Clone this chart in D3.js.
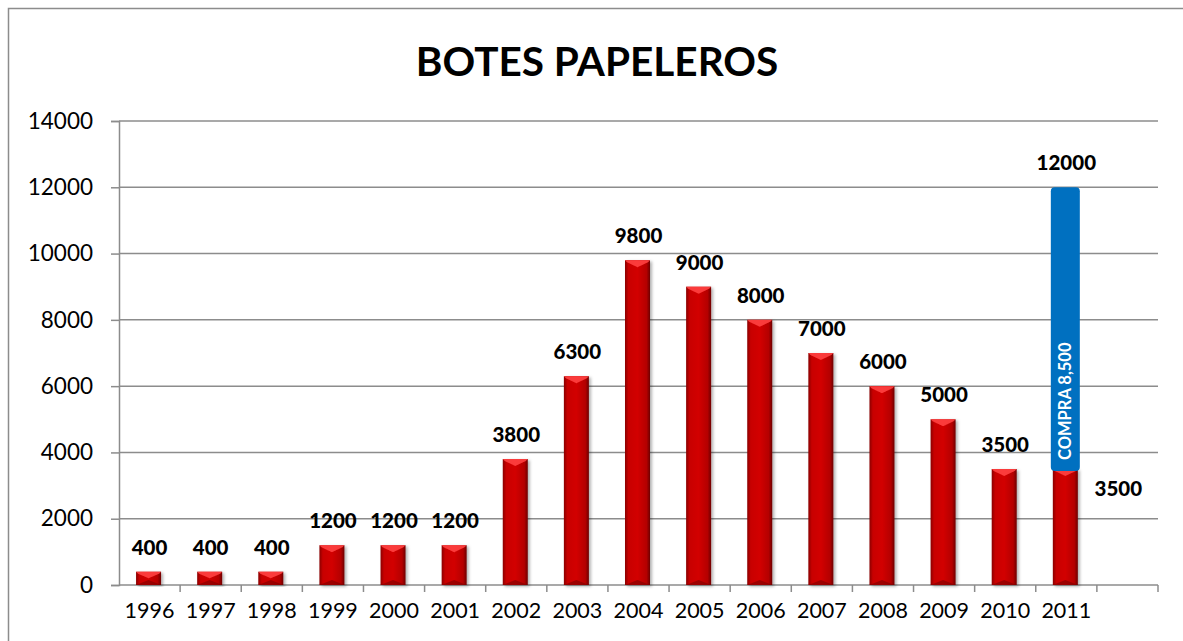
<!DOCTYPE html>
<html>
<head>
<meta charset="utf-8">
<script src="https://cdn.jsdelivr.net/npm/d3@7"></script>
<style>
  html, body { margin: 0; padding: 0; background: #fff; }
  svg { display: block; }
  text { font-family: Lato, "Open Sans", sans-serif; }
</style>
</head>
<body>
<div id="chart"></div>
<script>
// chart data
var title = "BOTES PAPELEROS";
var years = ["1996", "1997", "1998", "1999", "2000", "2001", "2002", "2003",
             "2004", "2005", "2006", "2007", "2008", "2009", "2010", "2011"];
var botes = [400, 400, 400, 1200, 1200, 1200, 3800, 6300,
             9800, 9000, 8000, 7000, 6000, 5000, 3500, 3500];
var compra = [0, 0, 0, 0, 0, 0, 0, 0, 0, 0, 0, 0, 0, 0, 0, 8500];
var compraLabel = "COMPRA 8,500";
var yTicks = [0, 2000, 4000, 6000, 8000, 10000, 12000, 14000];

var W = 1183, H = 641;
var margin = {top: 121, right: 25, bottom: 56, left: 119};

// one empty slot at the end of the axis, like the original
var slots = years.concat(["_empty"]);

var svg = d3.select("#chart").append("svg")
  .attr("width", W)
  .attr("height", H);

var defs = svg.append("defs");

var grad = defs.append("linearGradient")
  .attr("id", "redGrad")
  .attr("x1", "0%").attr("x2", "100%").attr("y1", "0%").attr("y2", "0%");
grad.append("stop").attr("offset", "0%").attr("stop-color", "#8a0000");
grad.append("stop").attr("offset", "14%").attr("stop-color", "#c80000");
grad.append("stop").attr("offset", "50%").attr("stop-color", "#d20202");
grad.append("stop").attr("offset", "86%").attr("stop-color", "#b40000");
grad.append("stop").attr("offset", "100%").attr("stop-color", "#6e0000");

var shadow = defs.append("filter").attr("id", "shadow")
  .attr("x", "-30%").attr("y", "-10%").attr("width", "160%").attr("height", "120%");
shadow.append("feDropShadow")
  .attr("dx", 2).attr("dy", 1.5).attr("stdDeviation", 1.5)
  .attr("flood-color", "#000").attr("flood-opacity", 0.3);

// outer chart border
svg.append("rect")
  .attr("x", 8.5).attr("y", 8.5)
  .attr("width", 1300).attr("height", 800)
  .attr("fill", "none")
  .attr("stroke", "#8c8c8c")
  .attr("stroke-width", 1.5);

svg.append("text")
  .attr("x", 597)
  .attr("y", 76)
  .attr("text-anchor", "middle")
  .style("font-size", "40.5px")
  .style("font-weight", "bold")
  .text(title);

var x = d3.scaleBand()
  .domain(slots)
  .range([margin.left, W - margin.right])
  .padding(0);

var y = d3.scaleLinear()
  .domain([0, 14000])
  .range([H - margin.bottom, margin.top]);

var g = svg.append("g");

// horizontal gridlines
g.selectAll(".grid")
  .data(yTicks.filter(function(d) { return d > 0; }))
  .enter().append("line")
    .attr("x1", margin.left)
    .attr("x2", W - margin.right)
    .attr("y1", function(d) { return y(d); })
    .attr("y2", function(d) { return y(d); })
    .attr("stroke", "#8c8c8c")
    .attr("stroke-width", 1.5);

// y axis
var yAxis = g.append("g")
  .attr("transform", "translate(" + margin.left + ",0)")
  .call(d3.axisLeft(y).tickValues(yTicks).tickFormat(d3.format("d")).tickSize(8).tickPadding(18));
yAxis.selectAll("path, line").attr("stroke", "#8c8c8c").attr("stroke-width", 1.5);
yAxis.selectAll("text")
  .style("font-size", "22.5px")
  .style("font-family", "Lato, sans-serif")
  .attr("fill", "#000");

// x axis: ticks at slot boundaries
var xAxisG = g.append("g");
xAxisG.append("line")
  .attr("x1", margin.left)
  .attr("x2", W - margin.right)
  .attr("y1", y(0)).attr("y2", y(0))
  .attr("stroke", "#8c8c8c").attr("stroke-width", 1.5);
xAxisG.selectAll(".xt")
  .data(slots)
  .enter().append("line")
    .attr("x1", function(d) { return x(d) + x.bandwidth(); })
    .attr("x2", function(d) { return x(d) + x.bandwidth(); })
    .attr("y1", y(0))
    .attr("y2", y(0) + 7)
    .attr("stroke", "#8c8c8c").attr("stroke-width", 1.5);
xAxisG.selectAll(".xl")
  .data(years)
  .enter().append("text")
    .attr("x", function(d) { return x(d) + x.bandwidth() / 2; })
    .attr("y", y(0) + 33)
    .attr("text-anchor", "middle")
    .style("font-size", "21.5px")
    .text(function(d) { return d; });

var bw = 25;
var bevel = 7;

var bars = g.selectAll(".bar")
  .data(years)
  .enter().append("g")
    .attr("filter", "url(#shadow)");

bars.append("rect")
  .attr("x", function(d) { return x(d) + x.bandwidth() / 2 - bw / 2 - 1; })
  .attr("y", function(d, i) { return y(botes[i]); })
  .attr("width", bw)
  .attr("height", function(d, i) { return y(0) - y(botes[i]); })
  .attr("fill", "url(#redGrad)");

// light bevel on top of each bar
bars.append("path")
  .attr("d", function(d, i) {
    var x0 = x(d) + x.bandwidth() / 2 - bw / 2 - 1, x1 = x0 + bw, t = y(botes[i]);
    var b = Math.min(bevel, (y(0) - t) / 2);
    return "M" + x0 + "," + t + "L" + x1 + "," + t +
           "L" + (x1 - 2) + "," + (t + 2) +
           "L" + (x0 + bw / 2) + "," + (t + b) +
           "L" + (x0 + 2) + "," + (t + 2) + "Z";
  })
  .attr("fill", "#ff4040")
  .attr("opacity", 0.9);

// darker bevel at the bottom
bars.append("path")
  .attr("d", function(d) {
    var x0 = x(d) + x.bandwidth() / 2 - bw / 2 - 1, x1 = x0 + bw, b0 = y(0);
    return "M" + x0 + "," + b0 + "L" + x1 + "," + b0 +
           "L" + (x0 + bw / 2) + "," + (b0 - 5) + "Z";
  })
  .attr("fill", "#7a0000")
  .attr("opacity", 0.6);

// blue stacked segment (compra)
var bbw = 29;
var blue = g.selectAll(".blue")
  .data(years.filter(function(d, i) { return compra[i] > 0; }))
  .enter().append("g");

blue.append("rect")
  .attr("x", function(d) { return x(d) + x.bandwidth() / 2 - bbw / 2 - 1; })
  .attr("y", function(d) { var i = years.indexOf(d); return y(botes[i] + compra[i]); })
  .attr("width", bbw)
  .attr("height", function(d) { var i = years.indexOf(d); return y(botes[i]) - y(botes[i] + compra[i]) + 2; })
  .attr("rx", 4)
  .attr("fill", "#0070c0");

blue.append("text")
  .attr("transform", function(d) {
    var i = years.indexOf(d);
    return "translate(" + (x(d) + x.bandwidth() / 2 + 5) + "," + (y(botes[i]) - 9) + ") rotate(-90)";
  })
  .attr("fill", "#fff")
  .style("font-size", "16.5px")
  .style("font-weight", "bold")
  .text(compraLabel);

// value labels
g.selectAll(".val")
  .data(years)
  .enter().append("text")
    .attr("x", function(d) { return x(d) + x.bandwidth() / 2; })
    .attr("y", function(d, i) { return y(botes[i] + compra[i]) - 17; })
    .attr("text-anchor", "middle")
    .style("font-size", "20.5px")
    .style("font-weight", "900")
    .text(function(d, i) { return botes[i] + compra[i]; });

// label of the red part of the stacked bar, set beside it
g.selectAll(".val2")
  .data(years.filter(function(d, i) { return compra[i] > 0; }))
  .enter().append("text")
    .attr("x", function(d) { return x(d) + x.bandwidth() / 2 + 52; })
    .attr("y", function(d) { return y(botes[years.indexOf(d)]) + 27; })
    .attr("text-anchor", "middle")
    .style("font-size", "20.5px")
    .style("font-weight", "900")
    .text(function(d) { return botes[years.indexOf(d)]; });
</script>
</body>
</html>
